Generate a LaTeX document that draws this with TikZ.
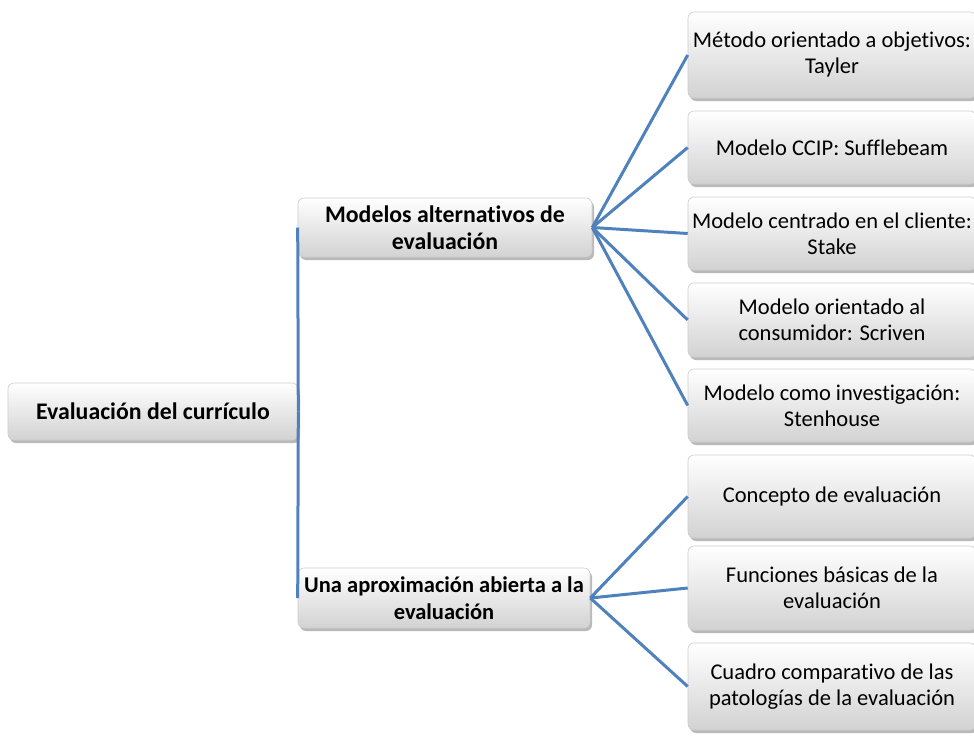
\documentclass[tikz,border=0pt]{standalone}
\usepackage{fontspec}
\setmainfont{Carlito}[Ligatures=NoCommon]
\usetikzlibrary{shadows}
\definecolor{linkblue}{RGB}{79,129,189}
\definecolor{boxborder}{RGB}{205,205,205}
\definecolor{boxbottom}{RGB}{210,210,210}
\tikzset{
  box/.style={rounded corners=6pt, draw=boxborder, line width=0.6pt,
    top color=white, bottom color=boxbottom, align=center,
    font=\fontsize{22.5}{26}\selectfont, inner xsep=0pt, inner ysep=2pt,
    drop shadow={opacity=0.55, shadow xshift=2pt, shadow yshift=-3pt}},
  boldbox/.style={box, font=\fontsize{23.8}{26.5}\selectfont\bfseries},
  smallbold/.style={box, font=\fontsize{22.5}{26.5}\selectfont\bfseries},
  link/.style={draw=linkblue, line width=3pt}
}
\begin{document}
\begin{tikzpicture}[x=1pt,y=-1pt]
\useasboundingbox (0,0) rectangle (974,736);
\clip (0,0) rectangle (974,736);
% root and middle level
\node[boldbox, minimum width=290pt, minimum height=57pt] (root) at (153,411.5) {Evaluación del currículo};
\node[boldbox, minimum width=294pt, minimum height=59pt] (m1) at (445,227.5) {Modelos alternativos de\\evaluación};
\node[smallbold, minimum width=292pt, minimum height=60pt] (m2) at (444,598) {Una aproximación abierta a la\\evaluación};
% leaves
\node[box, minimum width=288pt, minimum height=86pt] (l1) at (832,55) {Método orientado a objetivos:\\Tayler};
\node[box, minimum width=288pt, minimum height=73pt] (l2) at (832,147.5) {Modelo CCIP: Sufflebeam};
\node[box, minimum width=288pt, minimum height=73pt] (l3) at (832,233.5) {Modelo centrado en el cliente:\\Stake};
\node[box, minimum width=288pt, minimum height=74pt] (l4) at (832,320) {Modelo orientado al\\consumidor: Scriven};
\node[box, minimum width=288pt, minimum height=73pt] (l5) at (832,405.5) {Modelo como investigación:\\Stenhouse};
\node[box, minimum width=288pt, minimum height=83pt] (l6) at (832,496.5) {Concepto de evaluación};
\node[box, minimum width=288pt, minimum height=84pt] (l7) at (832,588) {Funciones básicas de la\\evaluación};
\node[box, minimum width=288pt, minimum height=87pt] (l8) at (832,686.5) {Cuadro comparativo de las\\patologías de la evaluación};
% connectors
\draw[link] (root.east) -- (m1.west);
\draw[link] (root.east) -- (m2.west);
\foreach \l in {l1,l2,l3,l4,l5} \draw[link] (m1.east) -- (\l.west);
\foreach \l in {l6,l7,l8} \draw[link] (m2.east) -- (\l.west);
\end{tikzpicture}
\end{document}
